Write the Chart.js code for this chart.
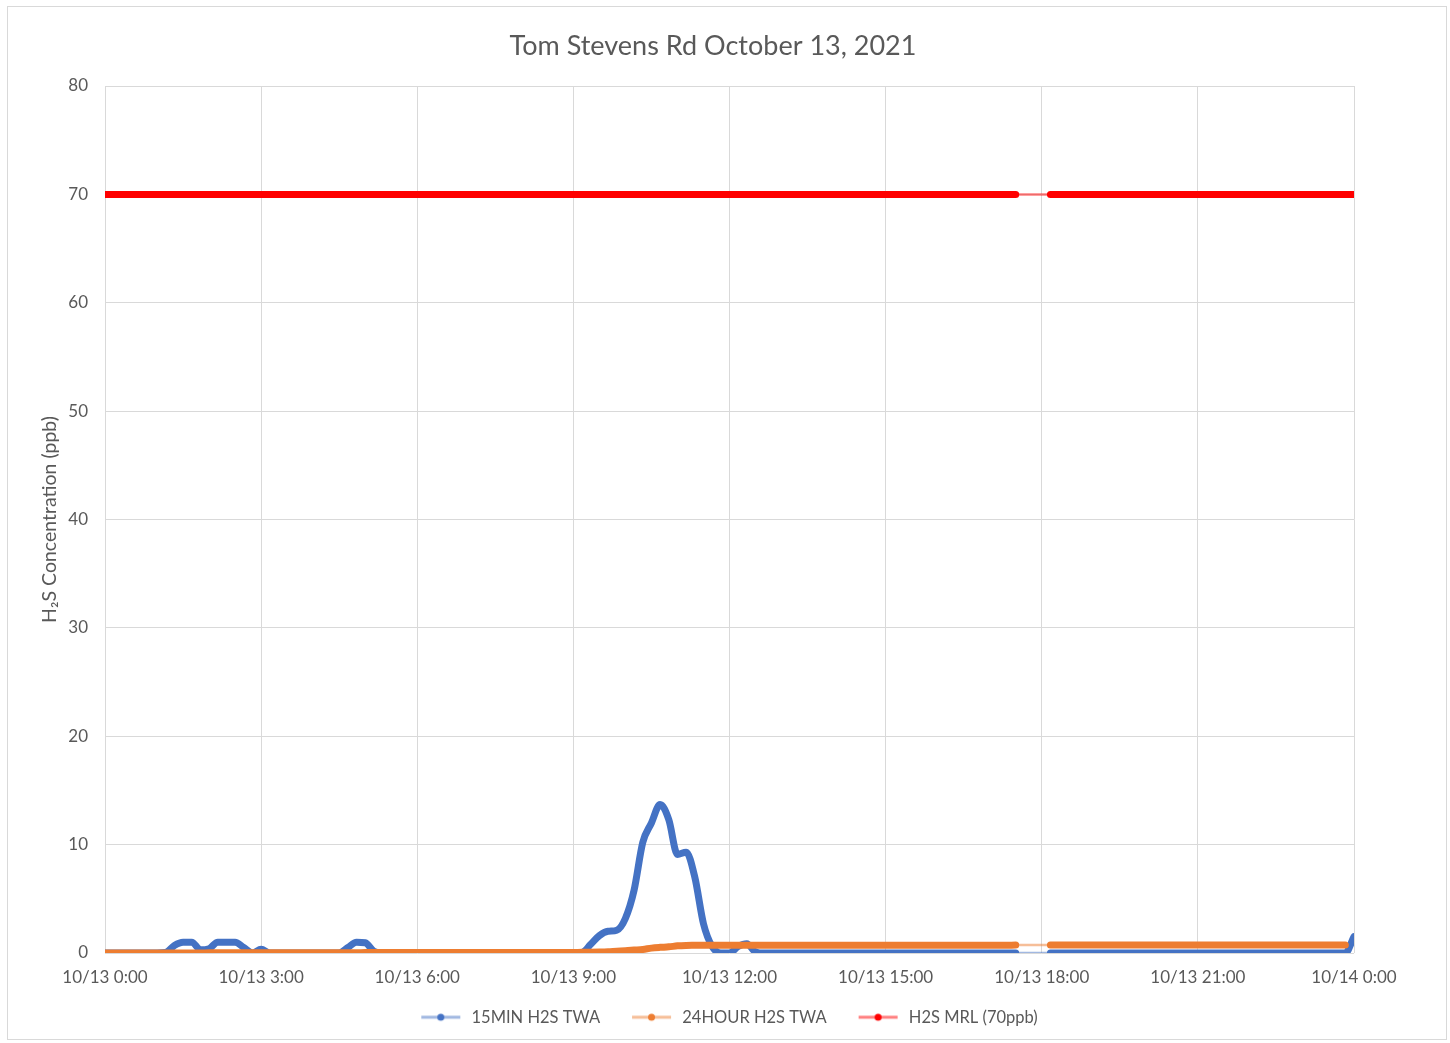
<!DOCTYPE html>
<html>
<head>
<meta charset="utf-8">
<script src="https://cdn.jsdelivr.net/npm/chart.js@4.4.0/dist/chart.umd.min.js"></script>
<style>
html,body{margin:0;padding:0;background:#fff;}
#wrap{position:absolute;left:0;top:0;width:1450px;height:1043px;}
</style>
</head>
<body>
<div id="wrap"><canvas id="c" width="1450" height="1043"></canvas></div>
<script>
const TITLE = 'Tom Stevens Rd October 13, 2021';
const Y_TITLE = 'H\u2082S Concentration (ppb)';
const SERIES_NAMES = ['15MIN H2S TWA', '24HOUR H2S TWA', 'H2S MRL (70ppb)'];
const X_TICK_LABELS = ['10/13 0:00','10/13 3:00','10/13 6:00','10/13 9:00','10/13 12:00','10/13 15:00','10/13 18:00','10/13 21:00','10/14 0:00'];
const Y_MIN = 0, Y_MAX = 80, Y_STEP = 10;

// sample times (hours after 10/13 0:00), every 10 minutes; no data 17:30-18:10
const times = [];
for (let m = 0; m <= 1050; m += 10) times.push(m / 60);
for (let m = 1090; m <= 1440; m += 10) times.push(m / 60);

// 15MIN H2S TWA (ppb)
const twa15 = [
  0,0,0,0,0,0,0, 0.05,0.7,1.0,1.0,0.3,0.4,1.0,1.0,1.0,0.5,0,0.35,0,
  0,0,0,0,0,0,0,0, 0.5,1.0,0.95,0.15,
  0,0,0,0,0,0,0,0,0,0,0,0,0,0,0,0,0,0,0,0,0,0,0,
  0.05,0.8,1.6,2.0,2.1,3.2,5.8,10.2,12.0,13.7,12.3,9.1,9.3,7.0,2.7,0.6,0,0,0.6,0.85,0.1,
  0,0,0,0,0,0,0,0,0,0,0,0,0,0,0,0,0,0,0,0,0,0,0,0,0,0,0,0,0,0,
  0,0,0,0,0,0,0,0,0,0,0,0,0,0,0,0,0,0,0,0,0,0,0,0,0,0,0,0,0,0,0,0,0,0,0,
  1.5
];
// 24HOUR H2S TWA (ppb)
const twa24 = [
  0,0,0,0,0,0,0,0,0,0,0,0,
  0.02,0.02,0.02,0.02,0.02,0.02,0.02,0.02,0.02,0.02,0.02,0.02,0.02,0.02,0.02,0.02,0.02,0.02,
  0.04,0.04,0.04,0.04,0.04,0.04,0.04,0.04,0.04,0.04,0.04,0.04,0.04,0.04,0.04,0.04,0.04,0.04,0.04,0.04,0.04,0.04,0.04,0.04,
  0.05,0.06,0.07,0.09,0.12,0.17,0.21,0.27,0.33,0.45,0.52,0.57,0.66,0.70,0.71,0.72,0.72,
  0.72,0.72,0.72,0.72,0.72,0.72,0.72,0.72,0.72,0.72,0.72,0.72,0.72,0.72,0.72,0.72,0.72,0.72,0.72,0.72,
  0.72,0.72,0.72,0.72,0.72,0.72,0.72,0.72,0.72,0.72,0.72,0.72,0.72,0.72,
  0.73,0.73,0.73,0.73,0.73,0.73,0.73,0.73,0.73,0.73,0.73,0.73,0.73,0.73,0.73,0.73,0.73,0.73,
  0.73,0.73,0.73,0.73,0.73,0.73,0.73,0.73,0.73,0.73,0.73,0.73,0.73,0.73,0.73,0.73,0.73,0.73
];
// H2S MRL (70ppb)
const mrl = [
  70,70,70,70,70,70,70,70,70,70,70,70,70,70,70,70,70,70,70,70,70,70,70,70,70,70,70,70,70,70,
  70,70,70,70,70,70,70,70,70,70,70,70,70,70,70,70,70,70,70,70,70,70,70,70,70,70,70,70,70,70,
  70,70,70,70,70,70,70,70,70,70,70,70,70,70,70,70,70,70,70,70,70,70,70,70,70,70,70,70,70,70,
  70,70,70,70,70,70,70,70,70,70,70,70,70,70,70,70,
  70,70,70,70,70,70,70,70,70,70,70,70,70,70,70,70,70,70,70,70,70,70,70,70,70,70,70,70,70,70,70,70,70,70,70,70
];

const COLORS = ['#4472C4', '#ED7D31', '#FF0000'];
const LIGHT = ['rgba(68,114,196,0.5)', 'rgba(237,125,49,0.5)', 'rgba(255,0,0,0.5)'];
const FONT = 'Lato, "Open Sans", sans-serif';
const TXT = '#595959';
const ICON_W = 64, ICON_BLANK = 22, ICON_LINE = 39;

function legendIcon(i) {
  const c = document.createElement('canvas');
  c.width = ICON_W; c.height = 10;
  const g = c.getContext('2d');
  g.strokeStyle = LIGHT[i]; g.lineWidth = 3;
  g.beginPath(); g.moveTo(ICON_BLANK, 5); g.lineTo(ICON_BLANK + ICON_LINE, 5); g.stroke();
  g.fillStyle = COLORS[i];
  g.beginPath(); g.arc(ICON_BLANK + ICON_LINE / 2, 5, 3.5, 0, Math.PI * 2); g.fill();
  return c;
}
const icons = [legendIcon(0), legendIcon(1), legendIcon(2)];

function makeDataset(i, arr, order) {
  return {
    label: SERIES_NAMES[i],
    data: times.map((t, k) => ({x: t, y: arr[k]})),
    borderColor: COLORS[i],
    backgroundColor: COLORS[i],
    borderWidth: 7,
    borderCapStyle: 'round',
    borderJoinStyle: 'round',
    pointRadius: 0,
    pointHoverRadius: 0,
    cubicInterpolationMode: 'monotone',
    fill: false,
    order: order,
    segment: {
      borderWidth: ctx => (ctx.p1.parsed.x - ctx.p0.parsed.x > 0.3 ? 2.5 : undefined),
      borderColor: ctx => (ctx.p1.parsed.x - ctx.p0.parsed.x > 0.3 ? LIGHT[i] : undefined)
    }
  };
}

const borderPlugin = {
  id: 'outerBorder',
  beforeDraw(chart) {
    const ctx = chart.ctx;
    ctx.save();
    ctx.fillStyle = '#ffffff';
    ctx.fillRect(0, 0, chart.width, chart.height);
    ctx.strokeStyle = '#d9d9d9';
    ctx.lineWidth = 1;
    ctx.strokeRect(7.5, 6.5, 1439, 1033);
    ctx.restore();
  },
  afterLayout(chart) {
    // shift legend so the visible icons/texts are centred (icon canvases have a blank left margin)
    const lg = chart.legend;
    if (lg) { lg.left -= ICON_BLANK / 2; lg.right -= ICON_BLANK / 2; }
    const tb = chart.titleBlock;
    if (tb) { tb.left += 6; tb.right += 6; }
  }
};

new Chart(document.getElementById('c'), {
  type: 'line',
  data: {
    datasets: [makeDataset(0, twa15, 3), makeDataset(1, twa24, 2), makeDataset(2, mrl, 1)]
  },
  plugins: [borderPlugin],
  options: {
    responsive: false,
    animation: false,
    devicePixelRatio: 1,
    layout: {padding: {left: 60, right: 96, top: 30, bottom: 7.5}},
    plugins: {
      tooltip: {enabled: false},
      title: {
        display: true,
        text: TITLE,
        color: TXT,
        font: {family: FONT, size: 27, weight: 'normal'},
        padding: {top: 0, bottom: 23.6}
      },
      legend: {
        position: 'bottom',
        fullSize: false,
        labels: {
          usePointStyle: true,
          pointStyleWidth: ICON_W,
          padding: 10,
          color: TXT,
          font: {family: FONT, size: 16.5},
          sort: (a, b) => a.datasetIndex - b.datasetIndex,
          generateLabels: chart => Chart.defaults.plugins.legend.labels.generateLabels(chart)
            .map(l => Object.assign({}, l, {pointStyle: icons[l.datasetIndex]}))
        }
      }
    },
    scales: {
      x: {
        type: 'linear',
        min: 0, max: 24,
        afterFit: s => { s.height = 46; },
        ticks: {
          stepSize: 3,
          autoSkip: false,
          maxRotation: 0,
          padding: 14,
          color: TXT,
          font: {family: FONT, size: 17},
          callback: v => X_TICK_LABELS[Math.round(v / 3)]
        },
        grid: {color: '#d9d9d9', lineWidth: 1, drawTicks: false},
        border: {display: false}
      },
      y: {
        min: Y_MIN, max: Y_MAX,
        afterFit: s => { s.width = 45; },
        ticks: {
          stepSize: Y_STEP,
          padding: 17,
          color: TXT,
          font: {family: FONT, size: 17}
        },
        grid: {color: '#d9d9d9', lineWidth: 1, drawTicks: false},
        border: {display: false},
        title: {
          display: true,
          text: Y_TITLE,
          color: TXT,
          font: {family: FONT, size: 19.5},
          padding: {top: -21.7, bottom: 0}
        }
      }
    }
  }
});
</script>
</body>
</html>
